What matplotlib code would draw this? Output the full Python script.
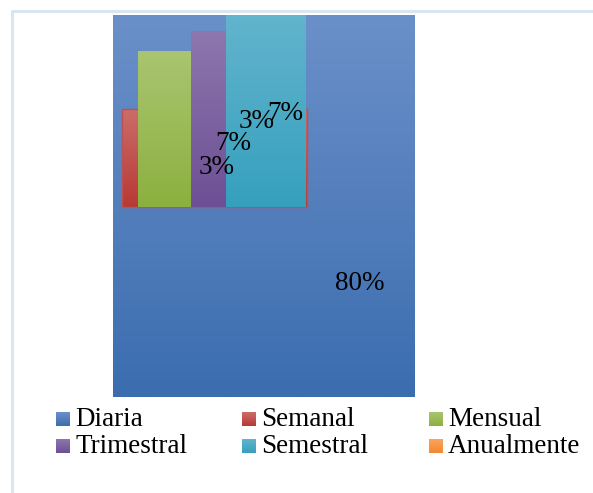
import numpy as np
import matplotlib
matplotlib.use("Agg")
import matplotlib.pyplot as plt
from matplotlib.colors import LinearSegmentedColormap
from matplotlib.patches import Rectangle

# ---- data ----
categories = ["Diaria", "Semanal", "Mensual", "Trimestral", "Semestral", "Anualmente"]
shares = [80, 3, 7, 3, 7, 0]

# ---- style ----
top_colors = ["#6b90c9", "#cb6d69", "#a9c570", "#8d77ad", "#63b4cd", "#f9a45e"]
bot_colors = ["#3b6daf", "#b73935", "#8cb03f", "#6d4f95", "#35a0bd", "#f4872f"]

# rendered block layout (pixel space) x0, y0, x1, y1
blocks = [(113, 15, 415, 397), (122, 109, 307, 207), (138, 51, 191, 207),
          (191, 31, 226, 207), (226, 15, 306, 207)]
label_pos = [(360, 284), (217, 168), (233, 143), (257, 122), (285, 113)]
label_order = [0, 3, 2, 1, 4]  # which share goes to which label spot

fig = plt.figure(figsize=(5.93, 4.93), dpi=100)
ax = fig.add_axes([0, 0, 1, 1])
ax.axis("off")

# frame
ax.plot([12, 12, 593], [493, 11, 11], color="#dae5f2", lw=2.2, solid_capstyle="butt")

def grad_rect(x0, y0, x1, y1, ct, cb, z):
    cmap = LinearSegmentedColormap.from_list("g", [ct, cb])
    g = np.linspace(0, 1, 256).reshape(-1, 1)
    ax.imshow(g, cmap=cmap, extent=(x0, x1, y1, y0), aspect="auto",
              interpolation="bilinear", zorder=z)

for i, (x0, y0, x1, y1) in enumerate(blocks):
    grad_rect(x0, y0, x1, y1, top_colors[i], bot_colors[i], 1 + i)
    if i == 1:
        ax.add_patch(Rectangle((x0, y0), x1 - x0, y1 - y0, fill=False,
                               ec="#c0504d", lw=1.0, zorder=2.1))

serif = ["Liberation Serif", "DejaVu Serif"]
for k, pos in enumerate(label_pos):
    idx = label_order[k]
    ax.text(pos[0], pos[1], f"{shares[idx]}%", ha="center", va="center",
            fontsize=19.5, family=serif, color="black", zorder=20)

# legend
col_x = [56, 242, 429]
row_base = [426, 453]
for i, name in enumerate(categories):
    r, c = divmod(i, 3)
    x = col_x[c]
    yb = row_base[r]
    grad_rect(x, yb - 14, x + 14, yb, top_colors[i], bot_colors[i], 10)
    ax.text(x + 19, yb, name, ha="left", va="baseline", fontsize=19.5,
            family=serif, color="black", zorder=20)

ax.set_xlim(0, 593)
ax.set_ylim(493, 0)
fig.savefig("out.png", dpi=100)
